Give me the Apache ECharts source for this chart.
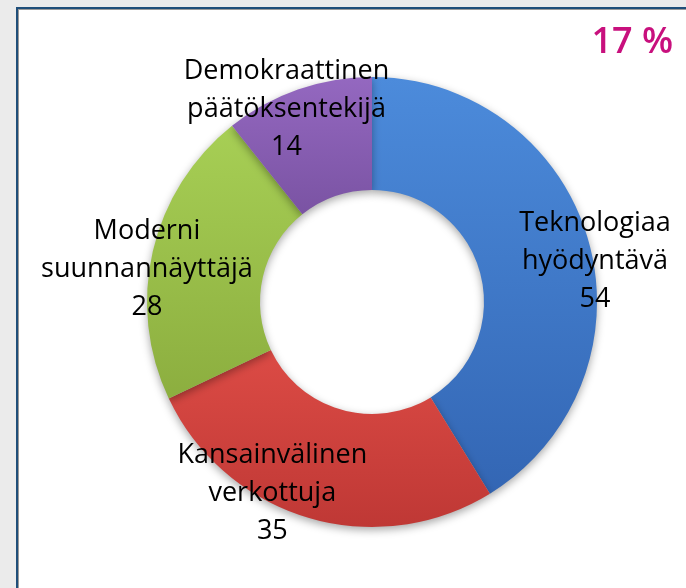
<!DOCTYPE html>
<html>
<head>
<meta charset="utf-8">
<script src="https://cdn.jsdelivr.net/npm/echarts@6/dist/echarts.min.js"></script>
<style>
  html, body { margin: 0; padding: 0; background: #ebebeb; overflow: hidden; }
  .panel {
    position: absolute; left: 16px; top: 7px; right: -10px; bottom: -10px;
    background: #fff;
    border-left: 2px solid #1f4e79; border-top: 2px solid #1f4e79;
    box-shadow: inset 1px 1px 0 #9a9a9a;
  }
  #chart { position: absolute; left: 0; top: 0; width: 686px; height: 588px; }
</style>
</head>
<body>
<div class="panel"></div>
<div id="chart"></div>
<script>
// luokat ja arvot (myötäpäivään klo 12:sta alkaen)
const categories = ['Teknologiaa\nhyödyntävä', 'Kansainvälinen\nverkottuja', 'Moderni\nsuunnannäyttäjä', 'Demokraattinen\npäätöksentekijä'];
const values = [54, 35, 28, 14];
const cornerText = '17 %';

// sävyt: [ylä, ala]
const shades = [
  ['#4c8bdb', '#3366b4'],
  ['#dc4b45', '#bf3835'],
  ['#a7cf55', '#8cae3f'],
  ['#9468c0', '#7a53a3']
];
// tekstien siirrot sektorin keskeltä
const labelShift = [[58, 6], [-51, 27], [-58, 6], [-29, -31]];

const chart = echarts.init(document.getElementById('chart'));

chart.setOption({
  animation: false,
  title: {
    text: cornerText,
    right: 8,
    top: 20,
    textStyle: { fontFamily: 'Open Sans', fontSize: 36, fontWeight: 600, color: '#c8107d' }
  },
  series: [{
    type: 'pie',
    center: [372, 302],
    radius: [112, 225],
    startAngle: 90,
    clockwise: true,
    avoidLabelOverlap: false,
    silent: true,
    label: {
      show: true,
      position: 'inside',
      formatter: '{b}\n{c}',
      fontFamily: 'Open Sans',
      fontSize: 27,
      lineHeight: 38,
      color: '#000',
      align: 'center'
    },
    labelLine: { show: false },
    labelLayout: function (params) {
      const s = labelShift[params.dataIndex];
      return { dx: s[0], dy: s[1] };
    },
    itemStyle: {
      borderWidth: 0,
      shadowColor: 'rgba(0,0,0,0.35)',
      shadowBlur: 8,
      shadowOffsetY: 3
    },
    data: categories.map((name, i) => ({
      name: name,
      value: values[i],
      itemStyle: {
        color: {
          type: 'linear', x: 0, y: 0, x2: 0, y2: 1,
          colorStops: [
            { offset: 0, color: shades[i][0] },
            { offset: 1, color: shades[i][1] }
          ]
        }
      }
    }))
  }]
});
</script>
</body>
</html>
